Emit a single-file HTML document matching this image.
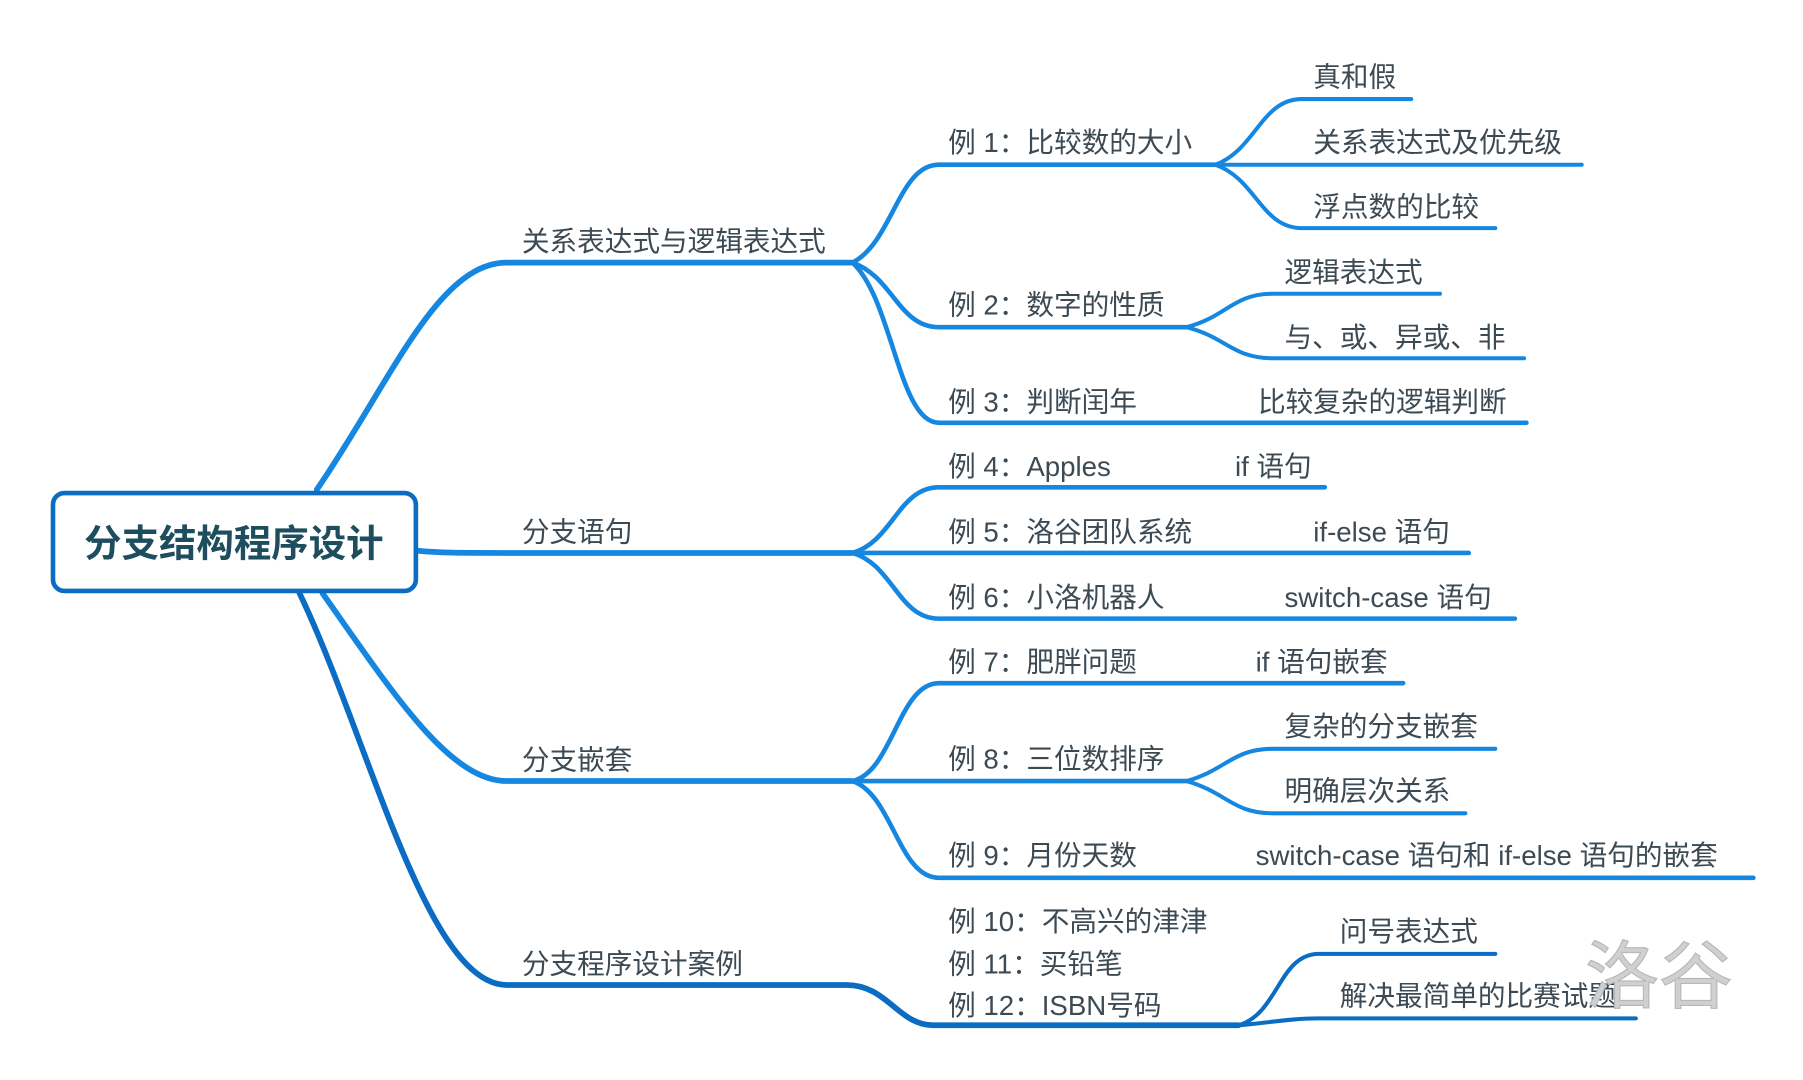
<!DOCTYPE html>
<html><head><meta charset="utf-8"><style>
html,body{margin:0;padding:0;background:#fff;}
svg{display:block}
text{font-family:"Liberation Sans","Noto Sans CJK SC",sans-serif;fill:#3c4a54;font-size:24px}
</style></head><body>
<svg width="1803" height="1080" viewBox="0 0 1803 1080">
<g transform="scale(1.152)" fill="none" stroke-linecap="round">
<g stroke="#1687e0" stroke-width="5">
<path d="M275 425 C340 330 380 228 440 228 L740 228"/>
<path d="M362 478 C380 480 400 480 440 480 L740 480"/>
<path d="M280 515 C340 600 390 678 440 678 L740 678"/>
</g>
<path d="M260 515 C320 640 370 855 440 855 L735 855 C770 855 780 890 810 890 L1075 890" stroke="#0a6cc2" stroke-width="5"/>
<g stroke="#1687e0" stroke-width="4">
<path d="M740 228 C775 210 780 143 815 143 L1055 143"/>
<path d="M740 228 C775 240 780 284 815 284 L1030 284"/>
<path d="M740 228 C775 260 780 367 815 367 L1325 367"/>
<path d="M740 480 C775 470 780 423 815 423 L1150 423"/>
<path d="M740 480 L1275 480"/>
<path d="M740 480 C775 490 780 537 815 537 L1315 537"/>
<path d="M740 678 C775 670 780 593 815 593 L1218 593"/>
<path d="M740 678 L1030 678"/>
<path d="M740 678 C775 690 780 762 815 762 L1522 762"/>
</g>
<g stroke="#1687e0" stroke-width="3.5">
<path d="M1055 143 C1090 130 1095 86 1130 86 L1225 86"/>
<path d="M1055 143 L1373 143"/>
<path d="M1055 143 C1090 155 1095 198 1130 198 L1298 198"/>
<path d="M1030 284 C1065 275 1070 255 1105 255 L1250 255"/>
<path d="M1030 284 C1065 293 1070 311 1105 311 L1323 311"/>
<path d="M1030 678 C1065 668 1070 650 1105 650 L1298 650"/>
<path d="M1030 678 C1065 688 1070 706 1105 706 L1272 706"/>
</g>
<g stroke="#0a6cc2" stroke-width="3.5">
<path d="M1075 890 C1110 880 1110 828 1145 828 L1298 828"/>
<path d="M1075 890 C1100 888 1120 884 1145 884 L1420 884"/>
</g>
<rect x="46" y="428" width="315" height="85" rx="10" fill="#fff" stroke="#0a6cc2" stroke-width="4"/>
<g fill="#3c4a54" stroke="none">
<text x="203" y="483" text-anchor="middle" style="font-size:32.5px;font-weight:bold;fill:#1e4e5e">分支结构程序设计</text>
<text x="453" y="218">关系表达式与逻辑表达式</text>
<text x="453" y="470">分支语句</text>
<text x="453" y="668">分支嵌套</text>
<text x="453" y="845">分支程序设计案例</text>
<text x="823" y="132">例 1：比较数的大小</text>
<text x="823" y="273">例 2：数字的性质</text>
<text x="823" y="357">例 3：判断闰年</text>
<text x="823" y="413">例 4：Apples</text>
<text x="823" y="470">例 5：洛谷团队系统</text>
<text x="823" y="527">例 6：小洛机器人</text>
<text x="823" y="583">例 7：肥胖问题</text>
<text x="823" y="667">例 8：三位数排序</text>
<text x="823" y="751">例 9：月份天数</text>
<text x="823" y="808">例 10：不高兴的津津</text>
<text x="823" y="845">例 11：买铅笔</text>
<text x="823" y="881">例 12：ISBN号码</text>
<text x="1140" y="75">真和假</text>
<text x="1140" y="132">关系表达式及优先级</text>
<text x="1140" y="188">浮点数的比较</text>
<text x="1115" y="245">逻辑表达式</text>
<text x="1115" y="301">与、或、异或、非</text>
<text x="1092" y="357">比较复杂的逻辑判断</text>
<text x="1072" y="413">if 语句</text>
<text x="1140" y="470">if-else 语句</text>
<text x="1115" y="527">switch-case 语句</text>
<text x="1090" y="583">if 语句嵌套</text>
<text x="1115" y="639">复杂的分支嵌套</text>
<text x="1115" y="695">明确层次关系</text>
<text x="1090" y="751">switch-case 语句和 if-else 语句的嵌套</text>
<text x="1163" y="817">问号表达式</text>
<text x="1163" y="873">解决最简单的比赛试题</text>
<text x="1376" y="870" style="font-size:64px;fill:#d0d0d0;stroke:#b8b8b8;stroke-width:1">洛谷</text>
</g>
</g>
</svg>
</body></html>
